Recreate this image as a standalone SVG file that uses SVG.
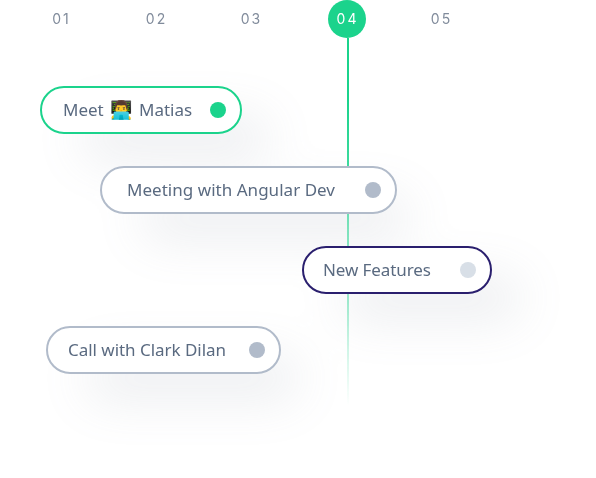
<svg xmlns="http://www.w3.org/2000/svg" width="596" height="478" viewBox="0 0 596 478">
<style>
.pill{fill:#fff;stroke-width:2}
.lbl{font-family:"Noto Sans","Open Sans",sans-serif;font-size:17px;fill:#5a6a80}
.day{font-family:"Inter","Noto Sans",sans-serif;font-size:14px;letter-spacing:2px;fill:#808b9b;text-anchor:middle}
.shadow{fill:#8a93a3;filter:url(#blur)}
</style>
<defs>
<filter id="blur" x="-60%" y="-300%" width="220%" height="700%"><feGaussianBlur stdDeviation="25"/></filter>
<linearGradient id="fade" x1="0" y1="0" x2="0" y2="1"><stop offset="0" stop-color="#1bd38c"/><stop offset=".168" stop-color="#1bd38c"/><stop offset=".345" stop-color="#1bd38c" stop-opacity=".85"/><stop offset=".52" stop-color="#1bd38c" stop-opacity=".55"/><stop offset=".71" stop-color="#1bd38c" stop-opacity=".42"/><stop offset=".85" stop-color="#1bd38c" stop-opacity=".2"/><stop offset="1" stop-color="#1bd38c" stop-opacity="0"/></linearGradient>
</defs>
<g id="shadows" opacity=".16">
<rect class="shadow" x="80" y="116" width="190" height="44" rx="22"/>
<rect class="shadow" x="140" y="196" width="270" height="44" rx="22"/>
<rect class="shadow" x="342" y="276" width="180" height="44" rx="22"/>
<rect class="shadow" x="85" y="356" width="215" height="44" rx="22"/>
</g>
<g id="connectors"><rect x="347" y="38" width="2" height="368" fill="url(#fade)"/></g>
<g id="days">
<text class="day" x="61.500" y="24">01</text>
<text class="day" x="156.500" y="24">02</text>
<text class="day" x="251.500" y="24">03</text>
<g id="day-04"><circle cx="347" cy="19" r="19" fill="#1bd38c"/><text class="day" x="347.500" y="24" style="fill:#fff">04</text></g>
<text class="day" x="441.500" y="24">05</text>
</g>
<g id="node-meet"><rect class="pill" x="41" y="87" width="200" height="46" rx="23" stroke="#1bd38c"/><text class="lbl" x="63" y="116">Meet <tspan x="110" style="font-size:18px">👨‍💻</tspan><tspan x="139">Matias</tspan></text><circle cx="218" cy="110" r="8" fill="#1bd38c"/></g>
<g id="node-angular"><rect class="pill" x="101" y="167" width="295" height="46" rx="23" stroke="#b1bbca"/><text class="lbl" x="127" y="196" textLength="208">Meeting with Angular Dev</text><circle cx="373" cy="190" r="8" fill="#b1bbca"/></g>
<g id="node-features"><rect class="pill" x="303" y="247" width="188" height="46" rx="23" stroke="#2a1f6e"/><text class="lbl" x="323" y="276" textLength="108">New Features</text><circle cx="468" cy="270" r="8" fill="#d8dfe7"/></g>
<g id="node-call"><rect class="pill" x="47" y="327" width="233" height="46" rx="23" stroke="#b1bbca"/><text class="lbl" x="68" y="356" textLength="158">Call with Clark Dilan</text><circle cx="257" cy="350" r="8" fill="#b1bbca"/></g>
</svg>
